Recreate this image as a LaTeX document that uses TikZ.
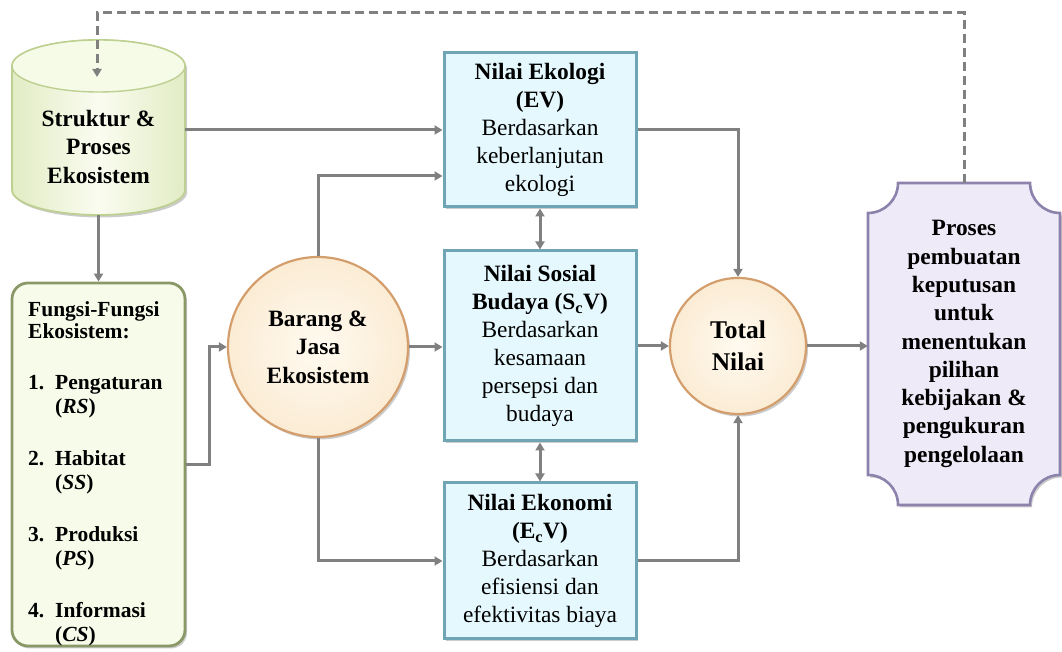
\documentclass[tikz,border=0pt]{standalone}
\usepackage{fontspec}
\setmainfont{Liberation Serif}
\usetikzlibrary{arrows.meta,shadows,calc}
\definecolor{lgray}{RGB}{128,128,128}
\definecolor{cylmid}{RGB}{250,252,240}
\definecolor{cylside}{RGB}{226,236,196}
\definecolor{cyltop}{RGB}{246,251,232}
\definecolor{cyledge}{RGB}{190,208,145}
\definecolor{grfill}{RGB}{247,251,234}
\definecolor{grdraw}{RGB}{138,152,104}
\definecolor{blfill}{RGB}{228,248,253}
\definecolor{bldraw}{RGB}{112,165,182}
\definecolor{crin}{RGB}{255,250,240}
\definecolor{crout}{RGB}{251,236,212}
\definecolor{crdraw}{RGB}{212,158,108}
\definecolor{pufill}{RGB}{238,234,247}
\definecolor{pudraw}{RGB}{140,130,172}
\begin{document}
\begin{tikzpicture}[x=1pt,y=1pt,
  conn/.style={draw=lgray, line width=3pt, -{Triangle[length=8pt,width=9pt]}},
  conntwo/.style={draw=lgray, line width=3pt, {Triangle[length=8pt,width=9pt]}-{Triangle[length=8pt,width=9pt]}},
  feedback/.style={draw=lgray, line width=3pt, dash pattern=on 9pt off 5pt, -{Triangle[length=8pt,width=9pt]}},
  shad/.style={drop shadow={shadow xshift=2pt, shadow yshift=-2.5pt, opacity=0.4}},
  boldtxt/.style={font=\fontsize{23.4}{28.3}\selectfont\bfseries, align=center, inner sep=0pt},
  valbox/.style={rectangle, draw=bldraw, line width=3pt, fill=blfill, minimum width=192pt, inner sep=0pt, shad, font=\fontsize{23.4}{28}\selectfont, align=center},
  roundnode/.style={circle, draw=crdraw, line width=2.2pt, inner color=crin, outer color=crout, inner sep=0pt, shad, align=center},
  anchorbox/.style={rectangle, inner sep=0pt, draw=none},
  funbox/.style={rectangle, rounded corners=16pt, draw=grdraw, line width=2.8pt, fill=grfill, shad, minimum width=173pt, minimum height=363pt}
]
\useasboundingbox (0,0) rectangle (1062,652);

% ---------- cylinder ----------
\path[shad, left color=cylside, right color=cylside, middle color=cylmid, draw=cyledge, line width=1.8pt]
  (12,586) -- (12,462) arc[start angle=180,end angle=360,x radius=86.5,y radius=25]
  -- (185,586) arc[start angle=0,end angle=180,x radius=86.5,y radius=26] -- cycle;
\fill[cyltop] (98.5,586) ellipse[x radius=86.5,y radius=26];
\draw[cyledge, line width=1.4pt] (98.5,586) ellipse[x radius=86.5,y radius=26];
\node[anchorbox, minimum width=173pt, minimum height=170pt] (cyl) at (98.5,522) {};
\node[boldtxt, font=\fontsize{23.4}{28.5}\selectfont\bfseries] (cyltxt) at (98.5,505) {Struktur \&\\Proses\\Ekosistem};

% ---------- functions box ----------
\node[funbox] (fun) at (98.5,187.5) {};
\node[anchor=north west, inner sep=0pt, align=left, font=\fontsize{21.5}{24.5}\selectfont\bfseries] (funtxt) at (28,351)
 {Fungsi-Fungsi\\[-2pt]Ekosistem:\\[26pt]
  \makebox[27pt][l]{1.}Pengaturan\\\hspace*{27pt}(\textit{RS})\\[27pt]
  \makebox[27pt][l]{2.}Habitat\\\hspace*{27pt}(\textit{SS})\\[27pt]
  \makebox[27pt][l]{3.}Produksi\\\hspace*{27pt}(\textit{PS})\\[27pt]
  \makebox[27pt][l]{4.}Informasi\\\hspace*{27pt}(\textit{CS})};

% ---------- circles ----------
\node[roundnode, minimum size=180pt, font=\fontsize{23.4}{28.5}\selectfont\bfseries] (bar) at (318,305) {Barang \&\\Jasa\\Ekosistem};
\node[roundnode, minimum size=136pt, font=\fontsize{25.5}{31.5}\selectfont\bfseries] (tot) at (738,306) {Total\\Nilai};

% ---------- value boxes ----------
\node[valbox, minimum height=154pt] (eko) at (540,522)
 {\textbf{Nilai Ekologi}\\\textbf{(EV)}\\Berdasarkan\\keberlanjutan\\ekologi};
\node[valbox, minimum height=190pt] (sos) at (540,306)
 {\textbf{Nilai Sosial}\\\textbf{Budaya (S\textsubscript{c}V)}\\Berdasarkan\\kesamaan\\persepsi dan\\budaya};
\node[valbox, minimum height=156pt] (ekn) at (540,91)
 {\textbf{Nilai Ekonomi}\\\textbf{(E\textsubscript{c}V)}\\Berdasarkan\\efisiensi dan\\efektivitas biaya};

% ---------- decision plaque ----------
\path[shad, fill=pufill, draw=pudraw, line width=2.6pt]
  (898,469) -- (1030,469) arc[start angle=180,end angle=270,radius=30]
  -- (1060,177) arc[start angle=90,end angle=180,radius=30]
  -- (898,147) arc[start angle=0,end angle=90,radius=30]
  -- (868,439) arc[start angle=270,end angle=360,radius=30] -- cycle;
\node[anchorbox, minimum width=192pt, minimum height=322pt, boldtxt] (pur) at (964,308)
 {Proses\\pembuatan\\keputusan\\untuk\\menentukan\\pilihan\\kebijakan \&\\pengukuran\\pengelolaan};

% ---------- connectors ----------
\coordinate (fbtip) at (97,575);
\draw[feedback] (pur.north) -- ++(0,170) -| (fbtip);
\draw[conn] (cyl.east) -- (eko.west);
\draw[conn] (cyl.south) -- (fun.north);
\draw[conn] (fun.east) -- ++(23,0) |- (bar.west);
\draw[conn] (bar.north) |- ($(eko.west)+(0,-46)$);
\draw[conn] (bar.south) |- (ekn.west);
\draw[conn] (bar.east) -- (bar.east -| sos.west);
\draw[conntwo] (eko.south) -- (sos.north);
\draw[conntwo] (sos.south) -- (ekn.north);
\draw[conn] (eko.east) -| (tot.north);
\draw[conn] (ekn.east) -| (tot.south);
\draw[conn] (sos.east) -- (tot.west);
\draw[conn] (tot.east) -- (tot.east -| pur.west);
\end{tikzpicture}
\end{document}
